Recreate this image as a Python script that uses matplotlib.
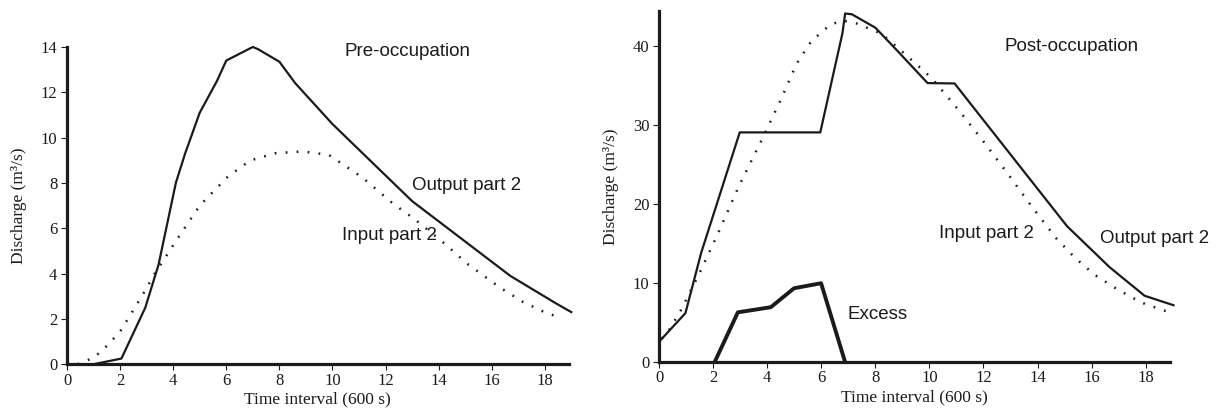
import matplotlib
matplotlib.use("Agg")
from matplotlib import pyplot as plt

# pre-occupation (left panel)
pre_out_x = [0, 1, 2.05, 2.95, 3.45, 4.1, 4.45, 5.0, 5.65, 6.0, 7.0, 7.2, 8.0, 8.6, 10.0, 13.0, 16.7, 18.4, 19.0]
pre_out_y = [0, 0, 0.25, 2.5, 4.4, 8.0, 9.3, 11.1, 12.5, 13.4, 14.0, 13.9, 13.35, 12.4, 10.6, 7.2, 3.9, 2.7, 2.3]
pre_in_x = [0.4, 0.9, 1.3, 2.0, 2.8, 3.3, 4.15, 5.0, 6.06, 6.9, 7.85, 8.87, 9.86, 11.13, 12.27, 13.1, 14.28, 15.05, 16.29, 17.15, 18.07, 18.6]
pre_in_y = [0, 0.24, 0.56, 1.44, 2.96, 3.99, 5.52, 7.0, 8.28, 8.99, 9.31, 9.39, 9.24, 8.24, 7.1, 6.4, 5.27, 4.46, 3.4, 2.77, 2.25, 2.06]

# post-occupation (right panel)
post_out_x = [0, 0.97, 1.55, 2.98, 5.96, 6.42, 6.78, 6.88, 7.13, 8.0, 8.78, 9.93, 10.93, 15.09, 16.67, 17.96, 19.03]
post_out_y = [2.6, 6.2, 13.8, 29.06, 29.06, 36.1, 41.6, 44.1, 44.0, 42.3, 39.5, 35.3, 35.25, 17.2, 12.0, 8.4, 7.2]
post_in_x = [0.1, 0.33, 0.83, 1.5, 2.15, 2.95, 3.84, 4.49, 5.09, 5.63, 6.35, 6.85, 7.31, 8.21, 8.96, 10.07,
             11.05, 11.98, 12.87, 13.77, 14.69, 15.38, 16.12, 16.95, 17.84, 18.79]
post_in_y = [3.0, 3.87, 6.74, 11.33, 16.09, 22.28, 28.43, 33.14, 37.78, 40.6, 42.75, 43.17, 42.83, 41.57, 39.38, 35.97,
             32.01, 28.0, 23.96, 19.75, 15.67, 13.22, 11.03, 9.22, 7.54, 6.4]
excess_x = [2.05, 2.91, 4.13, 4.99, 5.99, 6.88]
excess_y = [0, 6.3, 6.95, 9.35, 9.98, 0]

ink = "#1c1a1a"
serif = "Liberation Serif"
sans = "Liberation Sans"
dots = (0, (0.7, 3.7))

fig = plt.figure(figsize=(12.21, 4.12), dpi=100)
ax1 = fig.add_axes([0.0549, 0.116, 0.4108, 0.770])
ax2 = fig.add_axes([0.5399, 0.121, 0.4183, 0.852])


def style(ax, ymax, yticks):
    ax.set_xlim(0, 18.9)
    ax.set_ylim(0, ymax)
    for s in ["top", "right"]:
        ax.spines[s].set_visible(False)
    for s in ["left", "bottom"]:
        ax.spines[s].set_linewidth(2.3)
        ax.spines[s].set_color(ink)
    ax.set_xticks(range(0, 19, 2))
    ax.set_yticks(yticks)
    ax.tick_params(length=4, width=0.8, color=ink, labelcolor=ink, labelsize=12)
    ax.tick_params(axis="x", pad=2)
    ax.tick_params(axis="y", pad=3)
    for lab in ax.get_xticklabels() + ax.get_yticklabels():
        lab.set_fontfamily(serif)
    ax.set_xlabel("Time interval (600 s)", fontfamily=serif, fontsize=12.5, color=ink, labelpad=2)
    ax.set_ylabel("Discharge (m³/s)", fontfamily=serif, fontsize=12.5, color=ink, labelpad=10)


style(ax1, 14, range(0, 15, 2))
ax1.plot(pre_out_x, pre_out_y, color=ink, lw=1.6, clip_on=False)
ax1.plot(pre_in_x, pre_in_y, color=ink, lw=1.8, linestyle=dots, clip_on=False)
ax1.text(10.44, 13.78, "Pre-occupation", fontfamily=sans, fontsize=13.5, color=ink, va="center")
ax1.text(12.99, 7.87, "Output part 2", fontfamily=sans, fontsize=13.5, color=ink, va="center")
ax1.text(10.35, 5.7, "Input part 2", fontfamily=sans, fontsize=13.5, color=ink, va="center")

style(ax2, 44.4, range(0, 41, 10))
ax2.plot(post_out_x, post_out_y, color=ink, lw=1.6, clip_on=False)
ax2.plot(post_in_x, post_in_y, color=ink, lw=1.8, linestyle=dots, clip_on=False)
ax2.plot(excess_x, excess_y, color=ink, lw=2.8)
ax2.text(12.78, 39.9, "Post-occupation", fontfamily=sans, fontsize=13.5, color=ink, va="center")
ax2.text(10.36, 16.3, "Input part 2", fontfamily=sans, fontsize=13.5, color=ink, va="center")
ax2.text(16.3, 15.67, "Output part 2", fontfamily=sans, fontsize=13.5, color=ink, va="center")
ax2.text(6.98, 5.98, "Excess", fontfamily=sans, fontsize=13.5, color=ink, va="center")

fig.savefig("out.png", dpi=100)
